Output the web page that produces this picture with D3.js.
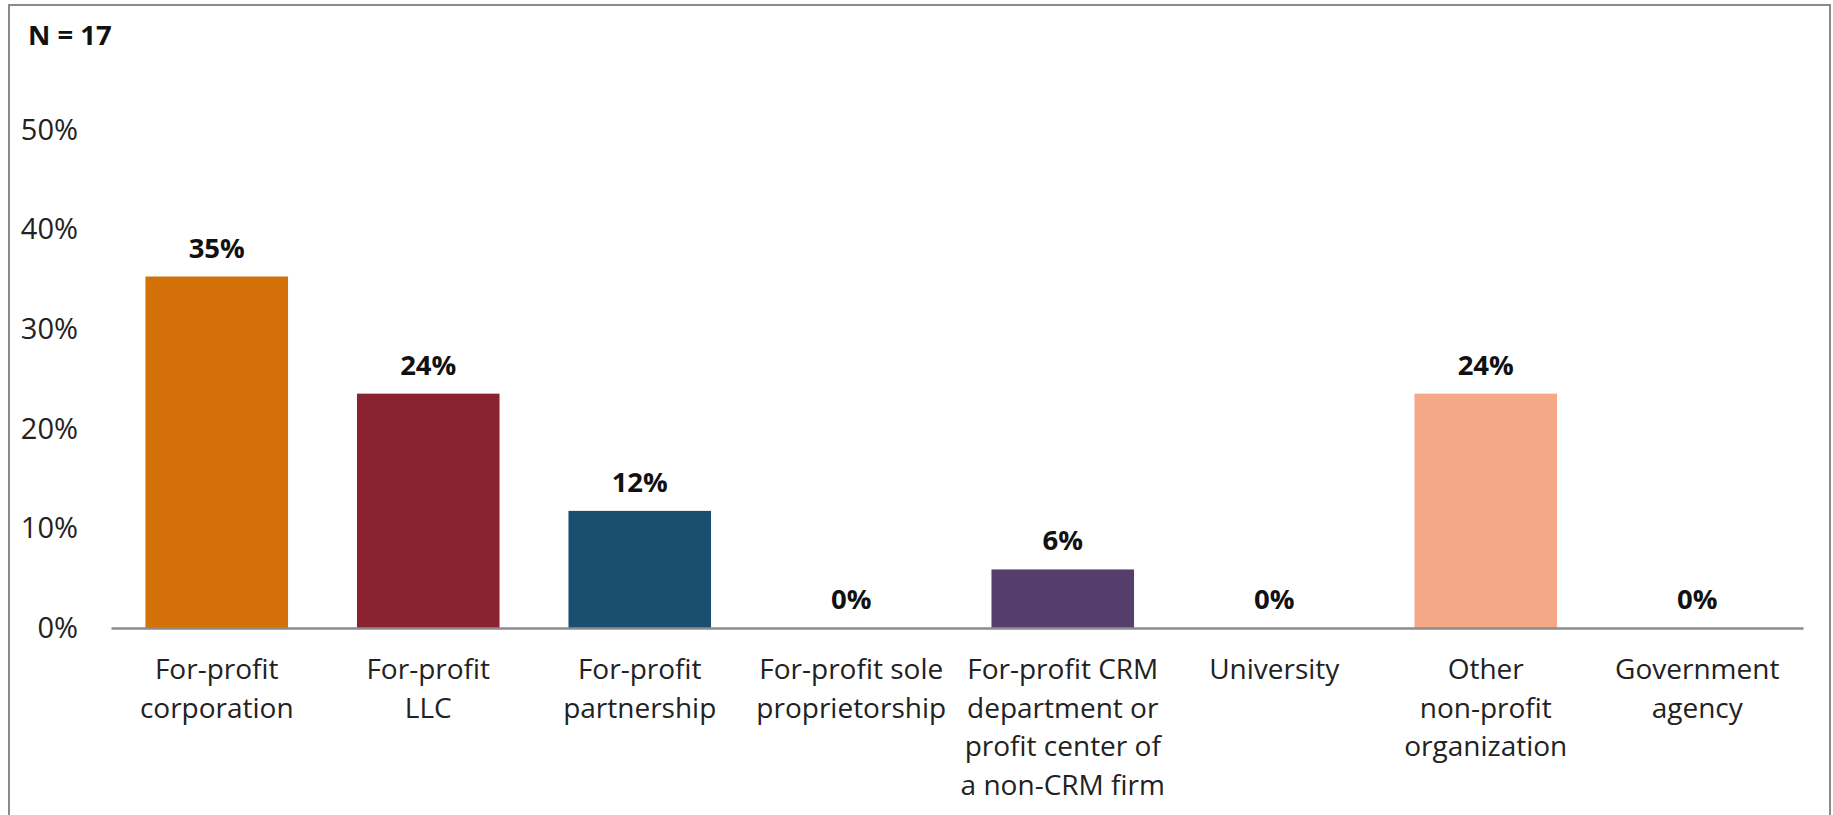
<!DOCTYPE html>
<html><head><meta charset="utf-8">
<script src="https://cdn.jsdelivr.net/npm/d3@7"></script>
<style>
html,body{margin:0;padding:0;background:#fff;}
svg{display:block;font-family:'Liberation Sans Narrow','Open Sans',sans-serif;}
</style></head>
<body>
<svg id="chart" width="1833" height="815"></svg>
<script>
const categories = [
  ["For-profit","corporation"],
  ["For-profit","LLC"],
  ["For-profit","partnership"],
  ["For-profit sole","proprietorship"],
  ["For-profit CRM","department or","profit center of","a non-CRM firm"],
  ["University"],
  ["Other","non-profit","organization"],
  ["Government","agency"]
];
const values = [35.29, 23.53, 11.76, 0, 5.88, 0, 23.53, 0];
const valueLabels = ["35%","24%","12%","0%","6%","0%","24%","0%"];
const colors = ["#D37007","#8B2231","#1A4E6E","#888888","#553E6B","#888888","#F4A886","#888888"];
const yTicks = [0,10,20,30,40,50];
const nLabel = "N = 17";

const svg = d3.select("#chart");
const mLeft = 111, mRight = 1803, mTop = 130, mBottom = 628;

svg.append("rect").attr("x",9).attr("y",5).attr("width",1821).attr("height",830)
  .attr("fill","#fff").attr("stroke","#8a8a8a").attr("stroke-width",2);

const x = d3.scaleBand().domain(d3.range(categories.length)).range([mLeft,mRight]).paddingInner(0.326).paddingOuter(0.163);
const y = d3.scaleLinear().domain([0,50]).range([mBottom,mTop]);

svg.append("text").attr("x",28).attr("y",45).attr("font-size",27.5).attr("font-weight","bold")
  .attr("fill","#111").text(nLabel);

const yAxis = d3.axisLeft(y).tickValues(yTicks).tickFormat(d=>d+"%").tickSize(0).tickPadding(0);
const ya = svg.append("g").attr("transform",`translate(78,0)`).call(yAxis);
ya.select(".domain").remove();
ya.selectAll("text").attr("font-size",29).attr("fill","#222").attr("font-family","'Liberation Sans Narrow','Open Sans',sans-serif");

svg.selectAll("rect.bar").data(values).join("rect").attr("class","bar")
  .attr("x",(d,i)=>x(i)).attr("width",x.bandwidth())
  .attr("y",d=>y(d)).attr("height",d=>y(0)-y(d))
  .attr("fill",(d,i)=>colors[i]);

const xAxis = d3.axisBottom(x).tickSize(0).tickFormat("");
const xa = svg.append("g").attr("transform",`translate(0,${mBottom})`).call(xAxis);
xa.select(".domain").attr("stroke","#8c8c8c").attr("stroke-width",2.5);

svg.selectAll("text.vl").data(values).join("text").attr("class","vl")
  .attr("x",(d,i)=>x(i)+x.bandwidth()/2).attr("y",d=>y(d)-19)
  .attr("text-anchor","middle").attr("font-size",27.5).attr("font-weight","bold").attr("fill","#111")
  .text((d,i)=>valueLabels[i]);

const cl = svg.selectAll("text.cl").data(categories).join("text").attr("class","cl")
  .attr("x",(d,i)=>x(i)+x.bandwidth()/2).attr("y",679)
  .attr("text-anchor","middle").attr("font-size",28).attr("fill","#222");
cl.selectAll("tspan").data(d=>d).join("tspan")
  .attr("x",function(){return this.parentNode.getAttribute("x");})
  .attr("dy",(d,i)=>i===0?0:38.6).text(d=>d);
</script>
</body></html>
